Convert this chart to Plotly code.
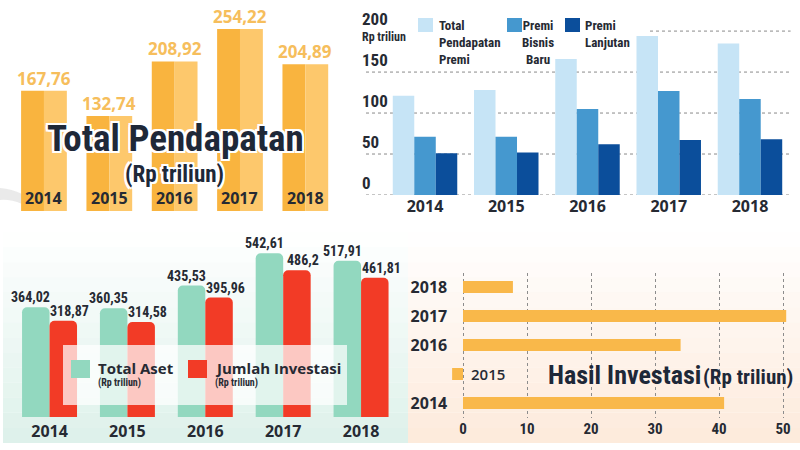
import plotly.graph_objects as go

W, H = 800, 450

# ---------------- data ----------------
years = ["2014", "2015", "2016", "2017", "2018"]
total_pendapatan = [167.76, 132.74, 208.92, 254.22, 204.89]
total_premi = [121, 128, 166, 194, 185]
premi_bisnis_baru = [71, 71, 105, 127, 117]
premi_lanjutan = [51, 52, 62, 67, 68]
total_aset = [364.02, 360.35, 435.53, 542.61, 517.91]
jumlah_investasi = [318.87, 314.58, 395.96, 486.2, 461.81]
hasil_investasi = [40.8, -1.7, 34.0, 50.5, 7.8]
premi_ticks = [0, 50, 100, 150, 200]
hasil_ticks = [0, 10, 20, 30, 40, 50]

COND = "Roboto Condensed, Liberation Sans Narrow, DejaVu Sans Condensed, Arial Narrow, Roboto, sans-serif"
GEO = "Open Sans, Roboto, sans-serif"
DARK = "#262a33"
GRID = dict(showgrid=True, griddash="dot", gridcolor="#8c8c8c", gridwidth=1)


def fmt(v):
    s = f"{v:.2f}"
    if s.endswith("0"):
        s = s[:-1]
    return s.replace(".", ",")


def xd(x0, x1):
    return [x0 / W, x1 / W]


def yd(y0, y1):
    return [(H - y1) / H, (H - y0) / H]


def px(x):
    return x / W


def py(y):
    return 1 - y / H


fig = go.Figure()
shapes = []
ann = []

# ---------------- backgrounds (fake gradients) ----------------
N = 14
for i in range(N):
    y0 = 232 + (443 - 232) * i / N
    y1 = 232 + (443 - 232) * (i + 1) / N
    op = (i + 0.5) / N
    shapes.append(dict(type="rect", xref="paper", yref="paper", x0=px(3), x1=px(408),
                       y0=py(y1), y1=py(y0), fillcolor="#DDF1EA", opacity=op,
                       line=dict(width=0), layer="below"))
    shapes.append(dict(type="rect", xref="paper", yref="paper", x0=px(408), x1=px(800),
                       y0=py(y1), y1=py(y0), fillcolor="#FDEADB", opacity=op,
                       line=dict(width=0), layer="below"))

# gray swoosh top-left
shapes.append(dict(type="path", xref="paper", yref="paper",
                   path=f"M {px(0)} {py(188)} Q {px(12)} {py(189)} {px(22)} {py(194)} "
                        f"L {px(22)} {py(204)} Q {px(10)} {py(199)} {px(0)} {py(200)} Z",
                   fillcolor="#dcdcdc", opacity=0.6, line=dict(width=0), layer="below"))

# ---------------- panel 1: Total Pendapatan ----------------
fig.add_trace(go.Bar(x=years, y=total_pendapatan, xaxis="x", yaxis="y", width=0.35, offset=-0.35,
                     marker=dict(color="#F9B43F", line=dict(width=0)), hoverinfo="skip"))
fig.add_trace(go.Bar(x=years, y=total_pendapatan, xaxis="x", yaxis="y", width=0.35, offset=0,
                     marker=dict(color="#FDC86C", line=dict(width=0)), hoverinfo="skip"))
for i, (yr, v) in enumerate(zip(years, total_pendapatan)):
    ann.append(dict(x=i, y=v, xref="x", yref="y", text=fmt(v), showarrow=False,
                    yanchor="bottom", yshift=-1,
                    font=dict(family=GEO, size=17, color="#F6BE5C", weight="bold")))
    ann.append(dict(x=i, y=0, xref="x", yref="y", text=yr, showarrow=False,
                    yanchor="middle", yshift=13,
                    font=dict(family=GEO, size=16, color=DARK, weight="bold")))

outline = ", ".join(f"{dx}px {dy}px 0 #fff" for dx, dy in
                    [(2, 0), (-2, 0), (0, 2), (0, -2), (2, 2), (-2, -2), (2, -2), (-2, 2)])
ann.append(dict(x=px(175), y=py(138), xref="paper", yref="paper", text="Total Pendapatan",
                showarrow=False, xanchor="center", yanchor="middle",
                font=dict(family=COND, size=37, color="#1e2838", weight="bold", shadow=outline)))
ann.append(dict(x=px(174), y=py(174), xref="paper", yref="paper", text="(Rp triliun)",
                showarrow=False, xanchor="center", yanchor="middle",
                font=dict(family=COND, size=23, color="#1e2838", weight="bold", shadow=outline)))

# ---------------- panel 2: Premi ----------------
bw2 = 0.2646
for vals, col, off in [(total_premi, "#C6E4F6", -1.5 * bw2),
                       (premi_bisnis_baru, "#4598CF", -0.5 * bw2),
                       (premi_lanjutan, "#0B4E9B", 0.5 * bw2)]:
    fig.add_trace(go.Bar(x=years, y=vals, xaxis="x2", yaxis="y2", width=bw2, offset=off,
                         marker=dict(color=col, line=dict(width=0)), hoverinfo="skip"))
x2dom = (364, 790.6)
y2dom = yd(6.5, 195)
y2range = [0, 230]

# dotted gridlines in data units of y2, behind the bars (top one only right of the legend)
for t in premi_ticks:
    gx0 = (366 - x2dom[0]) / (x2dom[1] - x2dom[0]) if t < premi_ticks[-1] \
        else (650 - x2dom[0]) / (x2dom[1] - x2dom[0])
    shapes.append(dict(type="line", xref="x2 domain", yref="y2", x0=gx0, x1=1, y0=t, y1=t,
                       line=dict(color="#8a8a8a", width=1, dash="dot"), layer="below"))

ann.append(dict(x=px(360), y=py(37), xref="paper", yref="paper", text="Rp triliun",
                showarrow=False, xanchor="left", yanchor="middle",
                font=dict(family=COND, size=12, color=DARK, weight="bold")))
leg2 = [(418, "#C6E4F6", 437, "Total<br>Pendapatan<br>Premi", "left"),
        (507, "#4598CF", 538, "Premi<br>Bisnis<br>Baru", "center"),
        (565, "#0B4E9B", 583, "Premi<br>Lanjutan", "left")]
for sx, col, tx, txt, al in leg2:
    shapes.append(dict(type="rect", xref="paper", yref="paper", x0=px(sx), x1=px(sx + 15),
                       y0=py(32), y1=py(18), fillcolor=col, line=dict(width=0)))
    ann.append(dict(x=px(tx), y=py(16), xref="paper", yref="paper", text=txt, showarrow=False,
                    xanchor=al, yanchor="top", align=al,
                    font=dict(family=COND, size=13, color=DARK, weight="bold")))

# ---------------- panel 3: Total Aset / Jumlah Investasi ----------------
bw3 = 0.353
for vals, col, off, shift in [(total_aset, "#92D8BF", -bw3, -19),
                              (jumlah_investasi, "#F23B26", 0, 20)]:
    fig.add_trace(go.Bar(x=years, y=vals, xaxis="x3", yaxis="y3", width=bw3, offset=off,
                         marker=dict(color=col, line=dict(width=0), cornerradius=5),
                         hoverinfo="skip"))
    for i, v in enumerate(vals):
        ann.append(dict(x=i, y=v, xref="x3", yref="y3", text=fmt(v), showarrow=False,
                        xanchor="center", yanchor="bottom", xshift=shift, yshift=0,
                        font=dict(family=COND, size=14, color=DARK, weight="bold")))
shapes.append(dict(type="rect", xref="paper", yref="paper", x0=px(63), x1=px(347),
                   y0=py(405), y1=py(345), fillcolor="#ffffff", opacity=0.72,
                   line=dict(width=0), layer="above"))
for sx, col, txt in [(71, "#92D8BF", "Total Aset"), (188, "#F23B26", "Jumlah Investasi")]:
    shapes.append(dict(type="rect", xref="paper", yref="paper", x0=px(sx), x1=px(sx + 19),
                       y0=py(378), y1=py(360), fillcolor=col, line=dict(width=0), layer="above"))
    ann.append(dict(x=px(sx + 25), y=py(368), xref="paper", yref="paper", text=txt,
                    showarrow=False, xanchor="left", yanchor="middle",
                    font=dict(family=GEO, size=15, color=DARK, weight="bold")))
    ann.append(dict(x=px(sx + 25), y=py(383), xref="paper", yref="paper", text="(Rp triliun)",
                    showarrow=False, xanchor="left", yanchor="middle",
                    font=dict(family=COND, size=10, color=DARK, weight="bold")))

# ---------------- panel 4: Hasil Investasi ----------------
fig.add_trace(go.Bar(x=hasil_investasi, y=years, orientation="h", xaxis="x4", yaxis="y4",
                     width=0.414, offset=-0.207,
                     marker=dict(color="#F9B84A", line=dict(width=0)), hoverinfo="skip"))
ann.append(dict(x=0, y=years.index("2015"), xref="x4", yref="y4", text="2015", showarrow=False,
                xanchor="left", yanchor="middle", xshift=6,
                font=dict(family=GEO, size=15, color=DARK, weight=600)))
ann.append(dict(x=px(546), y=py(375), xref="paper", yref="paper", text="Hasil Investasi",
                showarrow=False, xanchor="left", yanchor="middle",
                font=dict(family=COND, size=26, color="#1e2838", weight="bold")))
ann.append(dict(x=px(795), y=py(377), xref="paper", yref="paper", text="(Rp triliun)",
                showarrow=False, xanchor="right", yanchor="middle",
                font=dict(family=COND, size=21, color="#1e2838", weight="bold")))

# ---------------- layout ----------------
cat = dict(type="category", categoryorder="array", categoryarray=years, range=[-0.5, 4.5])
fig.update_layout(
    width=W, height=H, margin=dict(l=0, r=0, t=0, b=0),
    paper_bgcolor="#ffffff", plot_bgcolor="rgba(0,0,0,0)",
    showlegend=False, barmode="overlay",
    xaxis=dict(**cat, domain=xd(11.3, 338), visible=False, anchor="y"),
    yaxis=dict(domain=yd(10.5, 211), range=[0, 280], visible=False, anchor="x"),
    xaxis2=dict(type="category", categoryorder="array", categoryarray=years,
                range=[-0.5 - (384.4 - x2dom[0]) / 81.25, 4.5],
                domain=xd(*x2dom), anchor="y2", showgrid=False, showline=False, ticks="",
                tickfont=dict(family=GEO, size=16, color=DARK, weight="bold")),
    yaxis2=dict(domain=y2dom, range=y2range, anchor="x2", tickvals=premi_ticks,
                showgrid=False, zeroline=False, ticks="", ticklabelposition="inside top",
                ticklabelstandoff=-5,
                tickfont=dict(family=COND, size=17, color=DARK, weight="bold")),
    xaxis3=dict(**cat, domain=xd(10.6, 400), anchor="y3", showgrid=False, showline=False,
                ticks="", ticklabelstandoff=3,
                tickfont=dict(family=GEO, size=16, color=DARK, weight="bold")),
    yaxis3=dict(domain=yd(236, 417), range=[0, 600], anchor="x3", visible=False),
    xaxis4=dict(domain=xd(450.2, 792.6), range=[-2, 51.5], anchor="y4", tickvals=hasil_ticks,
                **GRID, zeroline=False, showline=False, ticks="",
                tickfont=dict(family=COND, size=15, color=DARK, weight="bold")),
    yaxis4=dict(**cat, domain=yd(272.5, 417.5), anchor="x4", showgrid=False,
                tickvals=list(range(len(years))),
                ticktext=[y if y != "2015" else "" for y in years],
                ticks="", ticklabelstandoff=2,
                tickfont=dict(family=GEO, size=16, color=DARK, weight="bold")),
    shapes=shapes, annotations=ann,
)

fig.write_html("out.html")
